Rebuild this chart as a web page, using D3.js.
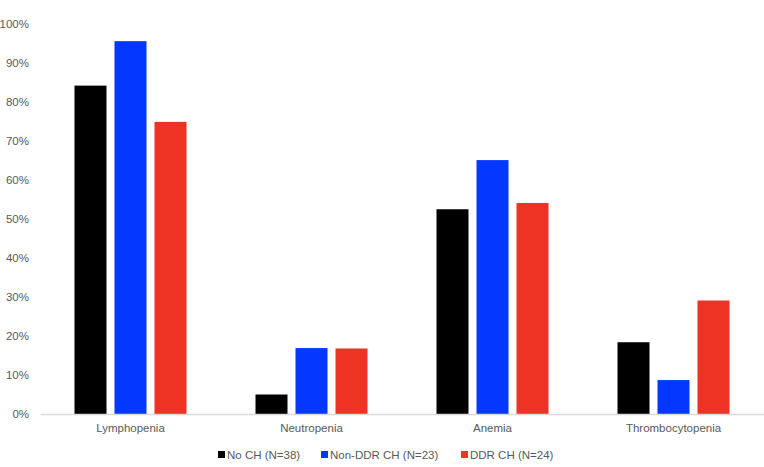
<!DOCTYPE html>
<html>
<head>
<meta charset="utf-8">
<script src="https://cdn.jsdelivr.net/npm/d3@7"></script>
<style>
  body { margin: 0; background: #fff; }
  text { font-family: "Liberation Sans", Arial, sans-serif; fill: #595959; }
</style>
</head>
<body>
<div id="chart"></div>
<script>
// chart data
var categories = ["Lymphopenia", "Neutropenia", "Anemia", "Thrombocytopenia"];
var seriesNames = ["No CH (N=38)", "Non-DDR CH (N=23)", "DDR CH (N=24)"];
var seriesColors = ["#000000", "#0437FF", "#EE3224"];
var noCH = [84.2, 5.0, 52.5, 18.4];
var nonDDR = [95.6, 16.9, 65.1, 8.7];
var ddr = [74.9, 16.8, 54.1, 29.1];
var yTicks = [0, 10, 20, 30, 40, 50, 60, 70, 80, 90, 100];

var seriesValues = [noCH, nonDDR, ddr];

var svgWidth = 764;
var svgHeight = 467;

var svg = d3.select("#chart")
  .append("svg")
  .attr("width", svgWidth)
  .attr("height", svgHeight);

// scales
var x0 = d3.scaleBand()
  .domain(categories)
  .range([40, 764])
  .padding(0);

var x1 = d3.scaleBand()
  .domain(seriesNames)
  .range([-56, 56])
  .paddingInner(0.2)
  .paddingOuter(0);

var y = d3.scaleLinear()
  .domain([0, 100])
  .range([414, 24]);

// y axis labels
var yAxis = d3.axisLeft(y)
  .tickValues(yTicks)
  .tickFormat(d => d + "%")
  .tickSize(0)
  .tickPadding(0);

var yg = svg.append("g")
  .attr("transform", "translate(29,0)")
  .call(yAxis);
yg.select(".domain").remove();
yg.selectAll("text")
  .attr("font-size", 11.5)
  .style("font-family", "Liberation Sans, Arial, sans-serif")
  .attr("fill", "#595959");

// bars
categories.forEach(function(cat, ci) {
  var g = svg.append("g")
    .attr("transform", `translate(${x0(cat) + x0.bandwidth() / 2}, 0)`);
  seriesNames.forEach(function(s, si) {
    var v = seriesValues[si][ci];
    g.append("rect")
      .attr("x", x1(s))
      .attr("y", y(v))
      .attr("width", x1.bandwidth())
      .attr("height", y(0) - y(v))
      .attr("fill", seriesColors[si]);
  });
});

// baseline + category labels
var xAxis = d3.axisBottom(x0).tickSize(0).tickPadding(10);
var xg = svg.append("g")
  .attr("transform", `translate(0, ${y(0)})`)
  .call(xAxis);
xg.select(".domain")
  .attr("stroke", "#d9d9d9")
  .attr("stroke-width", 1.5);
xg.selectAll("text")
  .attr("font-size", 11.5)
  .style("font-family", "Liberation Sans, Arial, sans-serif")
  .attr("fill", "#595959");

// legend
var legendX = [218, 321, 461];
var legend = svg.append("g");
seriesNames.forEach(function(s, i) {
  legend.append("rect")
    .attr("x", legendX[i])
    .attr("y", 451)
    .attr("width", 7)
    .attr("height", 7)
    .attr("fill", seriesColors[i]);
  legend.append("text")
    .attr("x", legendX[i] + 9)
    .attr("y", 459)
    .attr("font-size", 11.5)
    .text(s);
});
</script>
</body>
</html>
